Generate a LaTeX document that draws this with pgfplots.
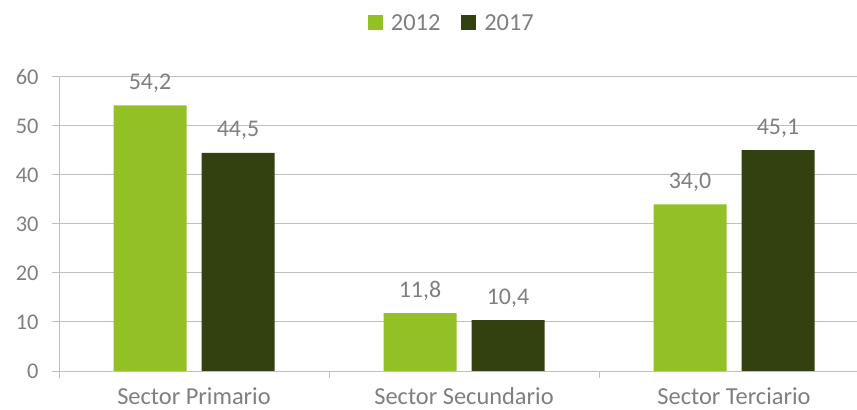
\documentclass[border=0pt]{standalone}
\usepackage{pgfplots}
\pgfplotsset{compat=1.18}
\usepackage{fontspec}
\setmainfont{Carlito}
\definecolor{cgreen}{HTML}{92C026}
\definecolor{cdark}{HTML}{334010}
\definecolor{ctext}{HTML}{7F7F7F}
\definecolor{cgrid}{HTML}{BFBFBF}
\begin{document}
\begin{tikzpicture}
\begin{axis}[
  scale only axis,
  width=810bp, height=294bp,
  xmin=-0.5, xmax=2.5,
  ymin=0, ymax=60,
  ytick={0,10,...,60},
  xtick={-0.5,0.5,1.5},
  xticklabels={},
  extra x ticks={0,1,2},
  extra x tick labels={Sector Primario, Sector Secundario, Sector Terciario},
  extra x tick style={grid=none, major tick length=0pt,
     xticklabel style={font=\fontsize{24.5}{27}\selectfont, text=ctext, anchor=base, yshift=-33bp, inner sep=0bp}},
  axis x line*=bottom,
  axis y line*=left,
  axis line style={cgrid, line width=1bp},
  ymajorgrids,
  grid style={cgrid, line width=1bp},
  tick align=outside,
  tick style={cgrid, line width=1bp},
  major tick length=7bp,
  /pgf/number format/assume math mode=true,
  yticklabel style={font=\fontsize{22.5}{25}\selectfont, text=ctext, xshift=-10bp},
  ybar,
  bar width=73bp,
  nodes near coords,
  nodes near coords style={font=\fontsize{24}{26}\selectfont, text=ctext, anchor=base, yshift=16bp,
     /pgf/number format/.cd, fixed, fixed zerofill, precision=1, use comma, assume math mode=true},
  legend style={draw=none, at={(0.485,1.184)}, anchor=center, legend columns=2,
     font=\fontsize{24.5}{26}\selectfont, text=ctext,
     /tikz/every even column/.append style={column sep=19bp}},
  legend image code/.code={\fill[#1] (0bp,-7.5bp) rectangle (15bp,7.5bp); \path (21bp,0bp);},
]
\addplot[fill=cgreen, draw=none, bar shift=-44bp] coordinates {(0,54.2) (1,11.8) (2,34.0)};
\addplot[fill=cdark, draw=none, bar shift=44bp] coordinates {(0,44.5) (1,10.4) (2,45.1)};
\legend{2012,2017}
\coordinate (sw) at (rel axis cs:0,0);
\end{axis}
\pgfresetboundingbox
\path ([shift={(-59bp,-39bp)}]sw) rectangle +(857bp,410bp);
\end{tikzpicture}
\end{document}
